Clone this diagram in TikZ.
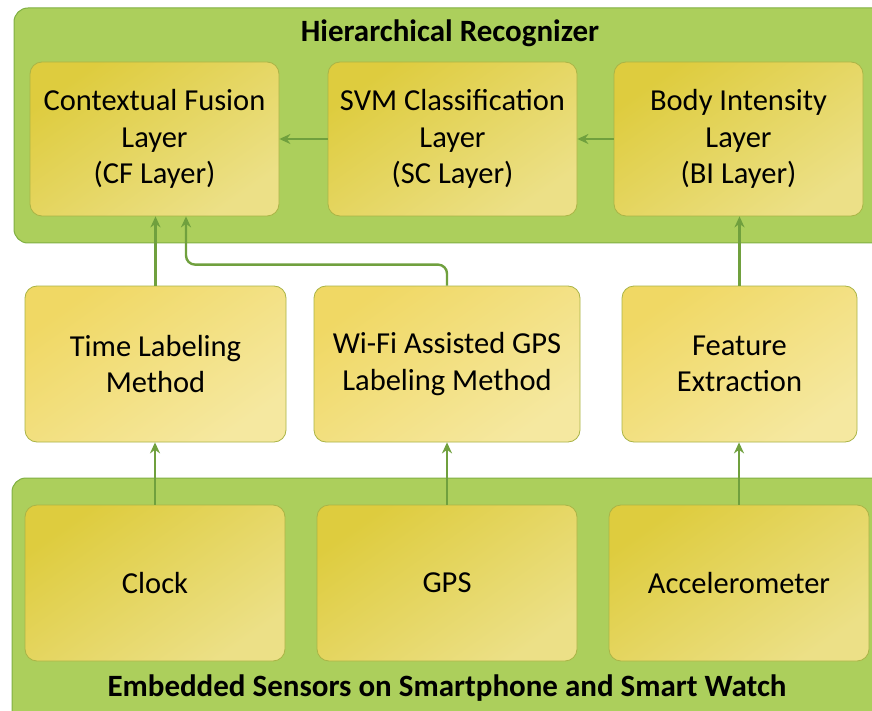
\documentclass[tikz,border=0pt]{standalone}
\usepackage{fontspec}
\setmainfont{Carlito}
\usetikzlibrary{arrows.meta,positioning,shadows}
\definecolor{gPanel}{RGB}{172,207,92}
\definecolor{gPanelLine}{RGB}{128,176,66}
\definecolor{gArrow}{RGB}{112,160,62}
\definecolor{yDark}{RGB}{222,204,62}
\definecolor{yLight}{RGB}{236,224,135}
\definecolor{yMidDark}{RGB}{240,216,100}
\definecolor{yMidLight}{RGB}{245,232,160}
\definecolor{yLine}{RGB}{170,180,70}

\begin{document}
\begin{tikzpicture}[
			x=1pt, y=-1pt,
			panel/.style={
				rounded corners=14pt,
				draw=gPanelLine,
				fill=gPanel,
				line width=1pt
			},
			layerbox/.style={
				rounded corners=12pt,
				draw=yLine,
				line width=0.8pt,
				top color=yDark,
				bottom color=yLight,
				shading angle=35,
				minimum width=249pt,
				minimum height=154pt,
				align=center,
				font=\fontsize{30.5}{36.5}\selectfont
			},
			methodbox/.style={
				layerbox,
				top color=yMidDark,
				bottom color=yMidLight,
				shading angle=35,
				minimum height=156pt
			},
			sensorbox/.style={
				layerbox,
				minimum width=260pt,
				minimum height=156pt
			},
			paneltitle/.style={
				font=\bfseries\fontsize{31}{36}\selectfont
			},
			flow/.style={
				draw=gArrow,
				line width=2.4pt,
				-{Stealth[length=11pt,width=10pt]}
			}
			]
			\useasboundingbox (0,0) rectangle (872,711);
			\fill[white] (0,0) rectangle (872,711);

			% panels
			\draw[panel] (14,8) rectangle (890,243);
			\draw[panel] (12,478) rectangle (890,730);
			\node[paneltitle] (hrtitle) at (450,33) {Hierarchical Recognizer};
			\node[paneltitle] (estitle) at (447,688) {Embedded Sensors on Smartphone and Smart Watch};

			% recognizer layers
			\node[layerbox] (cf) at (154.5,139) {Contextual Fusion\\Layer\\(CF Layer)};
			\node[layerbox] (sc) at (452.5,139) {SVM Classification\\Layer\\(SC Layer)};
			\node[layerbox] (bi) at (738.5,139) {Body Intensity\\Layer\\(BI Layer)};

			% labeling and features
			\node[methodbox,minimum width=261pt] (time) at (155.5,364) {Time Labeling\\Method};
			\node[methodbox,minimum width=266pt] (wifi) at (447,364) {Wi-Fi Assisted GPS\\Labeling Method};
			\node[methodbox,minimum width=235pt] (feat) at (739.5,364) {Feature\\Extraction};

			% sensors
			\node[sensorbox] (clock) at (155,583) {Clock};
			\node[sensorbox] (gps) at (447,583) {GPS};
			\node[sensorbox] (accel) at (739,583) {Accelerometer};

			\draw[flow] (sc.west) -- (cf.east);
			\draw[flow] (bi.west) -- (sc.east);
			\draw[flow] (time.north) -- (time.north |- cf.south);
			\draw[flow,rounded corners=9pt] (wifi.north) -- ++(0,-21) -| ([xshift=31.5pt]cf.south);
			\draw[flow] (feat.north) -- (feat.north |- bi.south);
			\draw[flow] (clock.north) -- (clock.north |- time.south);
			\draw[flow] (gps.north) -- (gps.north |- wifi.south);
			\draw[flow] (accel.north) -- (accel.north |- feat.south);
		\end{tikzpicture}
\end{document}
